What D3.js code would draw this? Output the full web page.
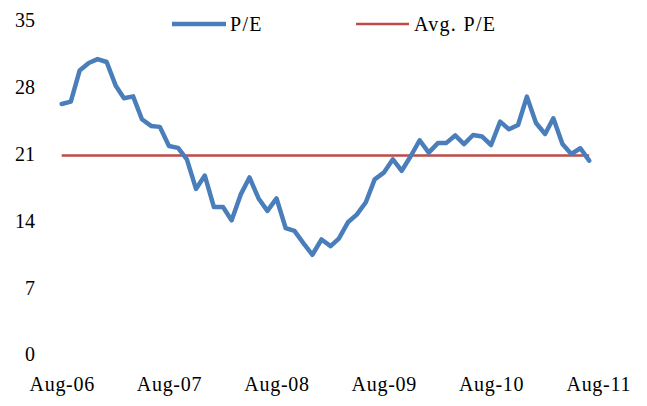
<!DOCTYPE html>
<html>
<head>
<meta charset="utf-8">
<script src="https://cdn.jsdelivr.net/npm/d3@7"></script>
<style>
  html, body { margin: 0; padding: 0; background: #fff; }
  svg { display: block; }
  .axis text { font-family: "Liberation Serif", "Times New Roman", serif; font-size: 20px; fill: #000; }
  .axis.x text { letter-spacing: 0.7px; }
  .legend text { font-family: "Liberation Serif", "Times New Roman", serif; font-size: 20px; fill: #000; letter-spacing: 1.3px; }
</style>
</head>
<body>
<svg id="chart" width="647" height="406"></svg>
<script>
// Monthly P/E ratio, Aug-2006 through Jul-2011
const startMonth = [2006, 7];
const peValues = [
  26.2, 26.45, 29.7, 30.5, 30.9, 30.6, 28.1, 26.8, 27.0, 24.6,
  23.9, 23.8, 21.8, 21.6, 20.4, 17.3, 18.7, 15.4, 15.4, 14.0,
  16.7, 18.5, 16.3, 15.0, 16.3, 13.2, 12.9, 11.6, 10.4, 12.0,
  11.3, 12.1, 13.8, 14.6, 15.9, 18.3, 19.0, 20.4, 19.2, 20.75,
  22.4, 21.1, 22.1, 22.1, 22.9, 22.0, 22.95, 22.8, 21.9, 24.35,
  23.55, 24.0, 26.97, 24.2, 23.06, 24.7, 22.0, 20.96, 21.56, 20.26
];
const avgPE = 20.8;
const yTicks = [0, 7, 14, 21, 28, 35];
const xTickLabels = ["Aug-06", "Aug-07", "Aug-08", "Aug-09", "Aug-10", "Aug-11"];
const seriesNames = ["P/E", "Avg. P/E"];
const seriesColors = ["#4A7EBB", "#BE4B48"];

const dates = peValues.map((_, i) => new Date(startMonth[0], startMonth[1] + i, 1));
const pe = peValues.map((v, i) => ({ date: dates[i], value: v }));
const avg = dates.map(d => ({ date: d, value: avgPE }));
const xTickDates = xTickLabels.map((_, i) => new Date(startMonth[0] + i, startMonth[1], 1));

const svg = d3.select("#chart");

const x = d3.scaleTime()
  .domain([xTickDates[0], xTickDates[xTickDates.length - 1]])
  .range([61.7, 598.3]);
const y = d3.scaleLinear().domain([0, 35]).range([354, 20]);

// Y axis: labels only
const yAxis = svg.append("g")
  .attr("class", "axis y")
  .attr("transform", "translate(35,0)")
  .call(d3.axisLeft(y).tickValues(yTicks).tickSize(0).tickPadding(0).tickFormat(d3.format("d")));
yAxis.select(".domain").remove();
yAxis.selectAll("text").attr("dy", "0.34em");

// X axis: labels only
const xAxis = svg.append("g")
  .attr("class", "axis x")
  .attr("transform", "translate(0,377)")
  .call(d3.axisBottom(x).tickValues(xTickDates).tickSize(0).tickPadding(0)
    .tickFormat((d, i) => xTickLabels[i]));
xAxis.select(".domain").remove();
xAxis.selectAll("text").attr("dy", "0.71em");

const line = d3.line().x(d => x(d.date)).y(d => y(d.value));

svg.append("path")
  .datum(avg)
  .attr("fill", "none")
  .attr("stroke", seriesColors[1])
  .attr("stroke-width", 2.5)
  .attr("d", line);

svg.append("path")
  .datum(pe)
  .attr("fill", "none")
  .attr("stroke", seriesColors[0])
  .attr("stroke-width", 4.5)
  .attr("stroke-linejoin", "round")
  .attr("stroke-linecap", "round")
  .attr("d", line);

// Legend
const legend = svg.append("g").attr("class", "legend");
const legendItems = [
  { x1: 172, x2: 226, tx: 230, width: 4.5 },
  { x1: 356, x2: 409, tx: 414, width: 2.5 }
];
legendItems.forEach((it, i) => {
  legend.append("line")
    .attr("x1", it.x1).attr("x2", it.x2)
    .attr("y1", 24).attr("y2", 24)
    .attr("stroke", seriesColors[i])
    .attr("stroke-width", it.width);
  legend.append("text")
    .attr("x", it.tx).attr("y", 31)
    .text(seriesNames[i]);
});
</script>
</body>
</html>
